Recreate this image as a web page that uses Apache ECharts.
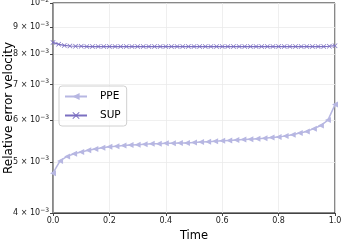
<!DOCTYPE html>
<html>
<head>
<meta charset="utf-8">
<script src="https://cdn.jsdelivr.net/npm/echarts@6/dist/echarts.min.js"></script>
<style>html,body{margin:0;padding:0;background:#fff}#c{width:342px;height:242px}</style>
</head>
<body>
<div id="c"></div>
<script>
// Data
const seriesNames = ['PPE', 'SUP'];
const ppeTime = [0,0.025,0.05,0.075,0.1,0.125,0.15,0.175,0.2,0.225,0.25,0.275,0.3,0.325,0.35,0.375,0.4,0.425,0.45,0.475,0.5,0.525,0.55,0.575,0.6,0.625,0.65,0.675,0.7,0.725,0.75,0.775,0.8,0.825,0.85,0.875,0.9,0.925,0.95,0.975,1.0];
const ppeValues = [4.76,5.02,5.12,5.18,5.22,5.26,5.29,5.32,5.34,5.35,5.37,5.38,5.39,5.40,5.41,5.41,5.42,5.42,5.43,5.43,5.44,5.45,5.46,5.47,5.48,5.49,5.50,5.51,5.52,5.53,5.54,5.56,5.57,5.60,5.63,5.67,5.71,5.78,5.86,6.00,6.42];
const supTime = [0,0.02,0.04,0.06,0.08,0.1,0.12,0.14,0.16,0.18,0.2,0.22,0.24,0.26,0.28,0.3,0.32,0.34,0.36,0.38,0.4,0.42,0.44,0.46,0.48,0.5,0.52,0.54,0.56,0.58,0.6,0.62,0.64,0.66,0.68,0.7,0.72,0.74,0.76,0.78,0.8,0.82,0.84,0.86,0.88,0.9,0.92,0.94,0.96,0.98,1.0];
const supValues = [8.42,8.35,8.31,8.29,8.28,8.28,8.27,8.27,8.27,8.27,8.27,8.27,8.27,8.27,8.27,8.27,8.27,8.27,8.27,8.27,8.27,8.27,8.27,8.27,8.27,8.27,8.27,8.27,8.27,8.27,8.27,8.27,8.27,8.27,8.27,8.27,8.27,8.27,8.27,8.27,8.27,8.27,8.27,8.27,8.27,8.27,8.27,8.27,8.27,8.28,8.30];
const valueScale = 1e-3;
const yTickValues = [0.004,0.005,0.006,0.007,0.008,0.009,0.01];
const xTickLabels = ['0.0','0.2','0.4','0.6','0.8','1.0'];

const FONT = 'DejaVu Sans';
const ppeColor = '#b7b7e2';
const supColor = '#7b6fc1';
const xPath = 'path://M0,1L1,0L5,4L9,0L10,1L6,5L10,9L9,10L5,6L1,10L0,9L4,5Z';

function yFmt(v){
  const m = Math.round(v / 0.001);
  if (m === 10) return '{n|10}{s|−2}';
  return '{n|' + m + ' × 10}{s|−3}';
}

const chart = echarts.init(document.getElementById('c'), null, {renderer:'canvas'});
chart.setOption({
  animation: false,
  grid: {left: 53, right: 7, top: 3, bottom: 29, show: true, borderColor: '#111', borderWidth: 1,
    containLabel: false, outerBoundsMode: 'none'},
  xAxis: {
    type: 'value', min: 0, max: 1, interval: 0.2,
    name: 'Time', nameLocation: 'middle', nameGap: 17, nameMoveOverlap: false,
    nameTextStyle: {fontFamily: FONT, fontSize: 11.5, color: '#000'},
    axisLine: {show: true, lineStyle: {color: '#444', width: 1}},
    axisTick: {show: true, length: 3, lineStyle: {color: '#444'}},
    axisLabel: {fontFamily: FONT, fontSize: 8, color: '#222', margin: 4,
      formatter: (v) => xTickLabels[Math.round(v / 0.2)]},
    splitLine: {show: true, lineStyle: {color: '#ebebeb', width: 0.8}}
  },
  yAxis: {
    type: 'log', logBase: 10, min: 0.004, max: 0.01,
    name: 'Relative error velocity', nameLocation: 'middle', nameGap: 38, nameMoveOverlap: false,
    nameTextStyle: {fontFamily: FONT, fontSize: 12, color: '#000'},
    axisLine: {show: true, lineStyle: {color: '#888', width: 1.5}},
    axisTick: {show: true, length: 3, customValues: yTickValues, lineStyle: {color: '#444'}},
    axisLabel: {
      customValues: yTickValues, margin: 4, formatter: yFmt,
      rich: {
        n: {fontFamily: FONT, fontSize: 8, color: '#222'},
        s: {fontFamily: FONT, fontSize: 6, color: '#222', padding: [0,0,6,0]}
      }
    },
    splitLine: {show: true, lineStyle: {color: '#ebebeb', width: 0.8}}
  },
  legend: {
    orient: 'vertical', left: 59, top: 86,
    data: seriesNames,
    backgroundColor: 'rgba(255,255,255,0.8)',
    borderColor: '#d0d0d0', borderWidth: 1, borderRadius: 3,
    padding: [5, 6, 5, 5], itemGap: 8, itemWidth: 22, itemHeight: 9,
    textStyle: {fontFamily: FONT, fontSize: 10.5, color: '#000', padding: [0,0,0,8]}
  },
  series: [
    {
      name: 'PPE', type: 'line',
      data: ppeTime.map((t, i) => [t, ppeValues[i] * valueScale]),
      color: ppeColor,
      lineStyle: {color: ppeColor, width: 1.5},
      symbol: 'triangle', symbolRotate: 90, symbolSize: 6, showAllSymbol: true,
      itemStyle: {color: ppeColor}
    },
    {
      name: 'SUP', type: 'line',
      data: supTime.map((t, i) => [t, supValues[i] * valueScale]),
      color: supColor,
      lineStyle: {color: supColor, width: 1.2},
      symbol: xPath, symbolSize: 5, showAllSymbol: true,
      itemStyle: {color: supColor}
    }
  ]
});
</script>
</body>
</html>
